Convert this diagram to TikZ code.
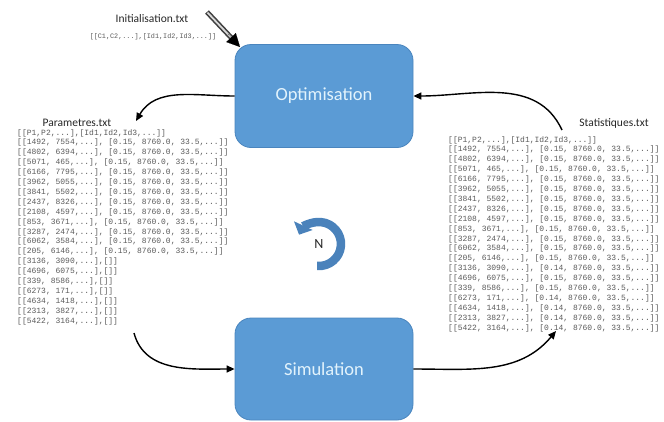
\documentclass[tikz,border=0pt]{standalone}
\usepackage{fontspec}
\setmainfont{Carlito}
\newfontfamily\lmono{Liberation Mono}
\usetikzlibrary{arrows.meta}
\definecolor{boxblue}{HTML}{5B9BD5}
\definecolor{boxedge}{HTML}{4A85BE}
\definecolor{boxtext}{HTML}{E2F3FC}
\definecolor{listgray}{HTML}{5A5A5A}
\definecolor{cycblue}{HTML}{4A82BB}
\tikzset{
  procbox/.style={draw=boxedge, line width=0.8pt, fill=boxblue, rounded corners=16pt,
    minimum width=178pt, minimum height=103pt, inner sep=0pt,
    text=boxtext, font=\fontsize{18.5}{20}\selectfont},
  filelbl/.style={font=\fontsize{11.5}{13}\selectfont, text=black!85, inner sep=0pt},
  datalist/.style={font=\lmono\fontsize{8}{9.9}\selectfont, text=listgray, align=left, inner sep=0pt},
  flow/.style={line width=1.4pt, -{Triangle[length=8pt,width=7pt]}},
}
\begin{document}
\begin{tikzpicture}[x=1pt,y=1pt]
\useasboundingbox (0,0) rectangle (664,-421);

% process boxes
\node[procbox] (opt) at (324,-96) {Optimisation};
\node[procbox, minimum height=102pt] (sim) at (324,-369) {Simulation};

% Initialisation
\node[filelbl, anchor=base] (initlbl) at (152,-22) {Initialisation.txt};
\node[datalist, font=\lmono\fontsize{6.8}{8}\selectfont, anchor=base] (initdata) at (153,-38) {[[C1,C2,...],[Id1,Id2,Id3,...]]};
\coordinate (initstart) at (207,-12);
\coordinate (initend) at (240,-47);
\draw[line width=5pt, black!75, line cap=butt, shorten >=8pt] (initstart) -- (initend);
\draw[line width=1.8pt, white!70!gray, line cap=butt, shorten >=8pt, shorten <=0.8pt] (initstart) -- (initend);
\draw[-{Triangle[length=13pt,width=13pt]}, line width=0.1pt, black, shorten <=30pt] (initstart) -- (initend);

% Parametres
\node[filelbl, anchor=base] (paramlbl) at (77,-126) {Parametres.txt};
\node[datalist, anchor=north west] (paramdata) at (17,-129) {%
[[P1,P2,...],[Id1,Id2,Id3,...]]\\{}%
[[1492, 7554,...], [0.15, 8760.0, 33.5,...]]\\{}%
[[4802, 6394,...], [0.15, 8760.0, 33.5,...]]\\{}%
[[5071, 465,...], [0.15, 8760.0, 33.5,...]]\\{}%
[[6166, 7795,...], [0.15, 8760.0, 33.5,...]]\\{}%
[[3962, 5055,...], [0.15, 8760.0, 33.5,...]]\\{}%
[[3841, 5502,...], [0.15, 8760.0, 33.5,...]]\\{}%
[[2437, 8326,...], [0.15, 8760.0, 33.5,...]]\\{}%
[[2108, 4597,...], [0.15, 8760.0, 33.5,...]]\\{}%
[[853, 3671,...], [0.15, 8760.0, 33.5,...]]\\{}%
[[3287, 2474,...], [0.15, 8760.0, 33.5,...]]\\{}%
[[6062, 3584,...], [0.15, 8760.0, 33.5,...]]\\{}%
[[205, 6146,...], [0.15, 8760.0, 33.5,...]]\\{}%
[[3136, 3090,...],[]]\\{}%
[[4696, 6075,...],[]]\\{}%
[[339, 8586,...],[]]\\{}%
[[6273, 171,...],[]]\\{}%
[[4634, 1418,...],[]]\\{}%
[[2313, 3827,...],[]]\\{}%
[[5422, 3164,...],[]]};

% Statistiques
\node[filelbl, anchor=base] (statlbl) at (614,-126) {Statistiques.txt};
\node[datalist, anchor=north west] (statdata) at (448,-136) {%
[[P1,P2,...],[Id1,Id2,Id3,...]]\\{}%
[[1492, 7554,...], [0.15, 8760.0, 33.5,...]]\\{}%
[[4802, 6394,...], [0.15, 8760.0, 33.5,...]]\\{}%
[[5071, 465,...], [0.15, 8760.0, 33.5,...]]\\{}%
[[6166, 7795,...], [0.15, 8760.0, 33.5,...]]\\{}%
[[3962, 5055,...], [0.15, 8760.0, 33.5,...]]\\{}%
[[3841, 5502,...], [0.15, 8760.0, 33.5,...]]\\{}%
[[2437, 8326,...], [0.15, 8760.0, 33.5,...]]\\{}%
[[2108, 4597,...], [0.15, 8760.0, 33.5,...]]\\{}%
[[853, 3671,...], [0.15, 8760.0, 33.5,...]]\\{}%
[[3287, 2474,...], [0.15, 8760.0, 33.5,...]]\\{}%
[[6062, 3584,...], [0.15, 8760.0, 33.5,...]]\\{}%
[[205, 6146,...], [0.15, 8760.0, 33.5,...]]\\{}%
[[3136, 3090,...], [0.14, 8760.0, 33.5,...]]\\{}%
[[4696, 6075,...], [0.15, 8760.0, 33.5,...]]\\{}%
[[339, 8586,...], [0.15, 8760.0, 33.5,...]]\\{}%
[[6273, 171,...], [0.14, 8760.0, 33.5,...]]\\{}%
[[4634, 1418,...], [0.14, 8760.0, 33.5,...]]\\{}%
[[2313, 3827,...], [0.14, 8760.0, 33.5,...]]\\{}%
[[5422, 3164,...], [0.14, 8760.0, 33.5,...]]};

% flow connectors
\coordinate (paramin) at (136,-121);
\coordinate (statout) at (562,-130);
\coordinate (paramout) at (134,-333);
\coordinate (statin) at (556,-331);
\draw[flow] (opt.west) to[out=180, in=60] (paramin);
\draw[flow] (statout) to[out=115, in=0] (opt.east);
\draw[flow] (paramout) to[out=-75, in=180] (sim.west);
\draw[flow] (sim.east) to[out=0, in=230] (statin);

% iteration symbol
\coordinate (cyc) at (319,-244);
\draw[cycblue, line width=8.5pt, -{Triangle[length=10pt,width=20pt]}]
  ([shift={(-95:22)}]cyc) arc[start angle=-95, end angle=155, radius=22];
\node[font=\fontsize{14}{16}\selectfont, text=black!85] (nlbl) at (cyc) {N};
\end{tikzpicture}
\end{document}
